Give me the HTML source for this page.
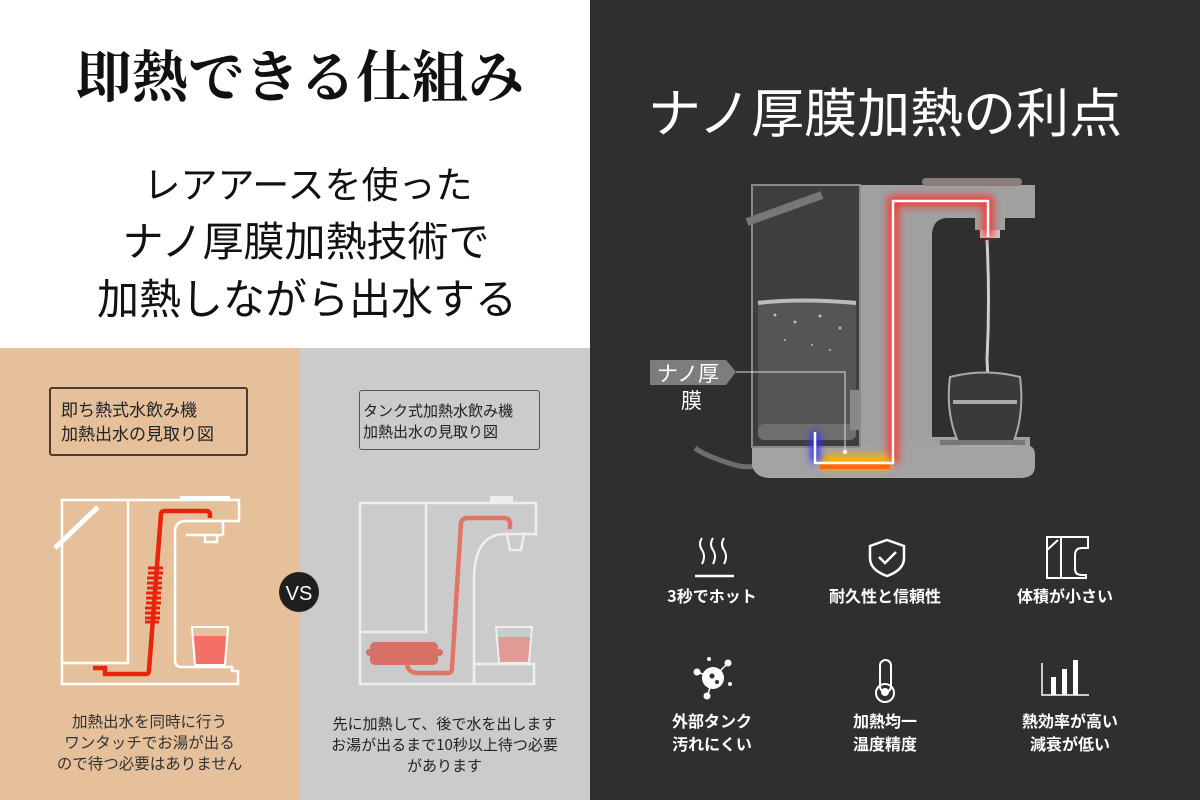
<!DOCTYPE html>
<html><head><meta charset="utf-8">
<style>
*{margin:0;padding:0;box-sizing:border-box}
body{width:1200px;height:800px;position:relative;overflow:hidden;background:#fff;font-family:"Liberation Sans","Noto Sans CJK JP",sans-serif}
.abs{position:absolute}
.t{white-space:nowrap}
</style></head><body>
<div class="abs" style="left:0;top:0;width:590px;height:348px;background:#fff"></div>
<div class="abs t" style="left:0;width:600px;top:42px;text-align:center;font-family:'Noto Serif CJK JP','Noto Serif CJK SC',serif;font-weight:700;font-size:56px;line-height:64px;color:#111">即熱できる仕組み</div>
<div class="abs t" style="left:0;width:616px;top:158px;text-align:center;font-family:'Noto Sans CJK JP',sans-serif;font-weight:400;font-size:37px;line-height:48px;color:#111">レアアースを使った</div>
<div class="abs t" style="left:0;width:612px;top:214px;text-align:center;font-family:'Noto Sans CJK JP',sans-serif;font-weight:400;font-size:41px;line-height:48px;color:#111">ナノ厚膜加熱技術で</div>
<div class="abs t" style="left:0;width:614px;top:272px;text-align:center;font-family:'Noto Sans CJK JP',sans-serif;font-weight:400;font-size:42px;line-height:50px;color:#111">加熱しながら出水する</div>

<div class="abs" style="left:0;top:348px;width:299px;height:452px;background:#e5c09b"></div>
<div class="abs" style="left:299px;top:348px;width:291px;height:452px;background:#cbcbcb"></div>

<div class="abs" style="left:49px;top:387px;width:199px;height:69px;border:2px solid #4a3a30;border-radius:3px"></div>
<div class="abs t" style="left:61px;top:397px;font-size:17px;line-height:24px;color:#222;font-family:'Noto Sans CJK JP',sans-serif">即ち熱式水飲み機<br>加熱出水の見取り図</div>
<div class="abs" style="left:359px;top:390px;width:181px;height:60px;border:1.5px solid #555;border-radius:3px"></div>
<div class="abs t" style="left:363px;top:400px;font-size:15px;line-height:21px;color:#222;font-family:'Noto Sans CJK JP',sans-serif">タンク式加熱水飲み機<br>加熱出水の見取り図</div>

<svg class="abs" style="left:0;top:348px" width="590" height="452" viewBox="0 348 590 452">
 <g fill="none" stroke="#fff" stroke-width="2.5">
  <path d="M62 500 H239 V521 H186 Q175 521 175 532 V660 Q175 667 182 667 H232 V671 H238 V684 H62 Z"/>
  <path d="M128 500 V663 H62"/>
  <path d="M205 535 V542 H217 V535"/>
  <line x1="186" y1="535" x2="223" y2="535"/>
  <line x1="223" y1="521" x2="223" y2="535"/>
 </g>
 <rect x="180" y="496" width="50" height="5" fill="#fff"/>
 <line x1="55" y1="548" x2="98" y2="507" stroke="#fff" stroke-width="5"/>
 <path d="M93 668 H105 V674 H146 Q149 674 149 670 L161 514 Q161 511 165 511 H206 Q210 511 210 515 V518" fill="none" stroke="#e8240c" stroke-width="4.5"/>
 <g stroke="#e8240c" stroke-width="3">
  <line x1="148" y1="568" x2="163" y2="568"/><line x1="148" y1="573" x2="163" y2="573"/><line x1="147" y1="578" x2="162" y2="578"/><line x1="147" y1="583" x2="162" y2="583"/><line x1="147" y1="588" x2="162" y2="588"/><line x1="146" y1="593" x2="161" y2="593"/><line x1="146" y1="598" x2="161" y2="598"/><line x1="146" y1="603" x2="161" y2="603"/><line x1="145" y1="608" x2="160" y2="608"/><line x1="145" y1="613" x2="160" y2="613"/><line x1="145" y1="618" x2="160" y2="618"/><line x1="145" y1="622" x2="159" y2="622"/>
 </g>
 <path d="M194 636 H226 L224 664 H196 Z" fill="#f47066"/>
 <path d="M192 627 H228 L225 665 H195 Z" fill="none" stroke="#fff" stroke-width="2"/>

 <g fill="none" stroke="#eee" stroke-width="2.5">
  <path d="M360 503 H536 V534 H505 Q474 534 474 580 V684 H360 Z"/>
  <path d="M426 503 V632 H360"/>
  <rect x="474" y="664" width="60" height="20"/>
  <path d="M507 534 L510 550 H521 L524 534"/>
 </g>
 <rect x="490" y="496" width="23" height="7" fill="#eee"/>
 <rect x="370" y="642" width="68" height="23" rx="5" fill="#d77166"/>
 <rect x="366" y="649" width="77" height="7" rx="3.5" fill="#d77166"/>
 <path d="M407 662 Q407 673 418 673 H448 Q452 673 452 668 L461 523 Q462 518 468 518 H504 Q510 518 510 524 V529" fill="none" stroke="#df7468" stroke-width="4.5"/>
 <path d="M498 637 H530 L528 662 H500 Z" fill="#e19a94"/>
 <path d="M496 627 H532 L529 663 H499 Z" fill="none" stroke="#eee" stroke-width="2"/>
 <circle cx="299" cy="592" r="20" fill="#1f1f1f"/>
 <text x="299" y="600" text-anchor="middle" font-size="20" fill="#fff" font-family="Liberation Sans,sans-serif">VS</text>
</svg>

<div class="abs t" style="left:0;width:299px;top:711px;text-align:center;font-size:15.5px;line-height:21px;color:#333;font-family:'Noto Sans CJK JP',sans-serif">加熱出水を同時に行う<br>ワンタッチでお湯が出る<br>ので待つ必要はありません</div>
<div class="abs t" style="left:299px;width:291px;top:713px;text-align:center;font-size:15px;line-height:21px;color:#222;font-family:'Noto Sans CJK JP',sans-serif">先に加熱して、後で水を出します<br>お湯が出るまで10秒以上待つ必要<br>があります</div>

<div class="abs" style="left:590px;top:0;width:610px;height:800px;background:#2f2f2e"></div>
<div class="abs t" style="left:590px;width:590px;top:78px;text-align:center;font-family:'Noto Sans CJK JP',sans-serif;font-size:53px;line-height:64px;color:#fff">ナノ厚膜加熱の利点</div>

<svg class="abs" style="left:590px;top:160px" width="610" height="340" viewBox="590 160 610 340">
 <defs>
  <filter id="gl" filterUnits="userSpaceOnUse" x="590" y="160" width="610" height="340"><feGaussianBlur stdDeviation="4"/></filter>
 </defs>
 <path d="M695 448 Q705 456 735 465 Q745 468 755 466" fill="none" stroke="#6e6e6e" stroke-width="5"/>
 <path d="M752 445 H1025 Q1035 445 1035 455 V466 Q1035 478 1020 478 H770 Q756 478 752 466 Z" fill="#a3a3a3"/>
 <path d="M858 185 H1035 V218 H948 Q932 218 932 236 V437 H1030 V446 H858 Z" fill="#a0a0a0"/>
 <rect x="922" y="178" width="100" height="8" rx="4" fill="#8a7c7c"/>
 <rect x="975" y="218" width="30" height="12" fill="#a0a0a0"/>
 <rect x="980" y="230" width="20" height="8" fill="#c8c8c8"/>
 <rect x="752" y="185" width="108" height="262" fill="#3e3e3e"/>
 <rect x="758" y="300" width="98" height="130" fill="#555"/>
 <path d="M758 303 Q800 298 856 303" stroke="#bbb" stroke-width="4" fill="none"/>
 <g fill="#bbb"><circle cx="775" cy="315" r="1.5"/><circle cx="795" cy="322" r="1.5"/><circle cx="820" cy="316" r="1.5"/><circle cx="840" cy="328" r="1.5"/><circle cx="785" cy="340" r="1"/><circle cx="812" cy="345" r="1"/><circle cx="830" cy="350" r="1"/></g>
 <rect x="758" y="424" width="98" height="16" rx="6" fill="#6f6f6f"/>
 <rect x="752" y="185" width="108" height="262" fill="none" stroke="#8a8a8a" stroke-width="2"/>
 <rect x="850" y="390" width="10" height="40" fill="#888"/>
 <path d="M747 222 L822 195" stroke="#777" stroke-width="8"/>
 <path d="M987 240 Q990 300 987 360 Q989 390 985 405" stroke="#ccc" stroke-width="3" fill="none"/>
 <path d="M950 377 Q985 368 1020 377 Q1025 415 1012 446 H960 Q945 415 950 377 Z" fill="#3a3a3a" stroke="#aaa" stroke-width="2"/>
 <rect x="953" y="400" width="64" height="4" fill="#aaa"/>
 <rect x="940" y="440" width="85" height="5" fill="#777"/>
 <path d="M893 463 V201 H988 V237" fill="none" stroke="#ff3030" stroke-width="11" filter="url(#gl)" opacity="0.9"/>
 <path d="M822 462 H890" fill="none" stroke="#ffb000" stroke-width="14" filter="url(#gl)"/>
 <rect x="820" y="462" width="70" height="7" fill="#ff6a00"/>
 <path d="M815 432 V462" stroke="#3030ff" stroke-width="9" filter="url(#gl)"/>
 <path d="M815 432 V463 H893 V201 H988 V237" fill="none" stroke="#fff" stroke-width="2.5"/>
 <path d="M650 360 H726 L736 372 L726 385 H650 Z" fill="#7d7d7d"/>
 <text x="657" y="381" font-size="21" fill="#fff" font-family="Noto Sans CJK JP,sans-serif">ナノ厚</text>
 <text x="681" y="408" font-size="21" fill="#fff" font-family="Noto Sans CJK JP,sans-serif">膜</text>
 <path d="M736 372 H845 V452" fill="none" stroke="#ddd" stroke-width="1"/>
 <circle cx="845" cy="452" r="2" fill="#fff"/>
</svg>

<svg class="abs" style="left:590px;top:520px" width="610" height="200" viewBox="590 520 610 200">
 <g fill="none" stroke="#fff" stroke-width="2">
  <path d="M702 538 q-4 6 0 12 q4 6 0 14"/><path d="M713 538 q-4 6 0 12 q4 6 0 14"/><path d="M724 538 q-4 6 0 12 q4 6 0 14"/>
  <line x1="695" y1="576" x2="734" y2="576" stroke-width="2.5"/>
  <path d="M887 540 L904 546 V558 Q904 570 887 576 Q870 570 870 558 V546 Z" stroke-width="2.5"/>
  <path d="M879 557 L885 563 L896 552" stroke-width="2.5"/>
  <path d="M1047 537 H1088 V548 H1082 Q1075 548 1075 555 V569 Q1075 575 1082 575 H1086 V578 H1047 Z"/>
  <line x1="1061" y1="537" x2="1061" y2="578"/><line x1="1047" y1="550" x2="1058" y2="540"/>
  <rect x="880" y="660" width="11" height="32" rx="5.5"/><circle cx="885" cy="693" r="9"/>
  <path d="M1042 663 V695 H1089" stroke-width="1.5"/>
 </g>
 <circle cx="885" cy="692" r="4" fill="#fff"/>
 <g fill="#fff">
  <rect x="1051" y="677" width="5" height="18"/><rect x="1062" y="669" width="5" height="26"/><rect x="1073" y="660" width="5" height="35"/>
  <circle cx="713" cy="678" r="11"/><circle cx="697" cy="672" r="3.5"/><circle cx="728" cy="663" r="3.5"/><circle cx="707" cy="696" r="3.5"/><circle cx="730" cy="684" r="2"/><circle cx="709" cy="659" r="2"/>
 </g>
 <g stroke="#fff" stroke-width="1.5"><line x1="700" y1="673" x2="713" y2="678"/><line x1="726" y1="665" x2="713" y2="678"/><line x1="708" y1="694" x2="713" y2="678"/></g>
 <circle cx="712" cy="676" r="2.5" fill="#2f2f2e"/><circle cx="717" cy="682" r="2" fill="#2f2f2e"/>
</svg>
<div class="abs t" style="left:652px;width:120px;top:584px;text-align:center;font-size:16px;line-height:22px;color:#fff;font-weight:700;font-family:'Noto Sans CJK JP',sans-serif">3秒でホット</div>
<div class="abs t" style="left:815px;width:140px;top:584px;text-align:center;font-size:16px;line-height:22px;color:#fff;font-weight:700;font-family:'Noto Sans CJK JP',sans-serif">耐久性と信頼性</div>
<div class="abs t" style="left:1000px;width:130px;top:584px;text-align:center;font-size:16px;line-height:22px;color:#fff;font-weight:700;font-family:'Noto Sans CJK JP',sans-serif">体積が小さい</div>
<div class="abs t" style="left:652px;width:120px;top:709px;text-align:center;font-size:16px;line-height:23px;color:#fff;font-weight:700;font-family:'Noto Sans CJK JP',sans-serif">外部タンク<br>汚れにくい</div>
<div class="abs t" style="left:825px;width:120px;top:709px;text-align:center;font-size:16px;line-height:23px;color:#fff;font-weight:700;font-family:'Noto Sans CJK JP',sans-serif">加熱均一<br>温度精度</div>
<div class="abs t" style="left:1005px;width:130px;top:709px;text-align:center;font-size:16px;line-height:23px;color:#fff;font-weight:700;font-family:'Noto Sans CJK JP',sans-serif">熱効率が高い<br>減衰が低い</div>
</body></html>
